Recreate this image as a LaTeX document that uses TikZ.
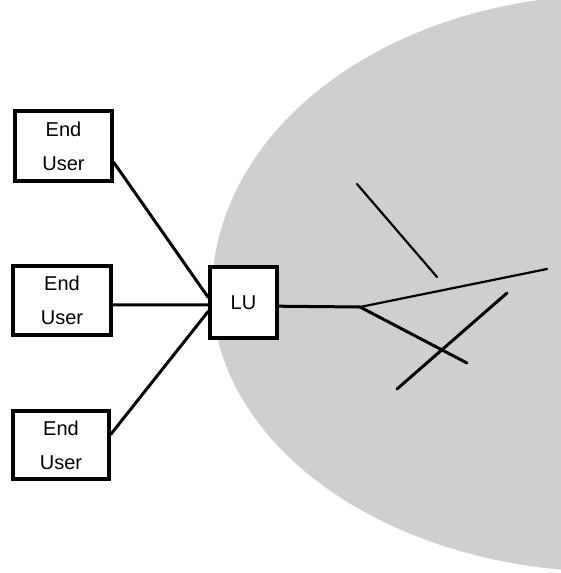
\documentclass[tikz,border=0pt]{standalone}
\usepackage{fontspec}
\setmainfont{Liberation Sans}
\begin{document}
\begin{tikzpicture}[x=1pt,y=-1pt,
  box/.style={draw=black, fill=white, line width=3.4pt, inner sep=0pt, align=center,
    font=\fontsize{20}{34}\selectfont},
  link/.style={line width=3pt, line cap=round},
  thin link/.style={line width=2.2pt, line cap=round}]
\useasboundingbox (0,0) rectangle (560,573);
% shaded region
\fill[black!19] plot[domain=97:180, samples=80, smooth] ({612+400*cos(\x)}, {292-297*sin(\x)})
  -- plot[domain=180:263, samples=80, smooth] ({612+400*cos(\x)}, {292-280*sin(\x)})
  -- (570,580) -- (570,-10) -- cycle;
% nodes
\node[box, minimum width=97, minimum height=70] (b1) at (63.5,146) {End\\User};
\node[box, minimum width=98, minimum height=69] (b2) at (62,300.5) {End\\User};
\node[box, minimum width=96, minimum height=68] (b3) at (61,445) {End\\User};
\node[box, minimum width=67, minimum height=71] (lu) at (243.5,302.5) {LU};
\coordinate (j) at (360,307);
\coordinate (e1) at (547,269);
\coordinate (e2) at (467,363);
\coordinate (c1) at (397,389);
\coordinate (c2) at (507,293);
\coordinate (s1) at (357,184);
\coordinate (s2) at (437,277);
% connectors
\draw[link] (b1.-18) -- (lu.172);
\draw[link] (b2.-5) -- (lu.184);
\draw[link] (b3.12) -- (lu.194);
\draw[link] (lu.-6) -- (j);
\draw[thin link] (j) -- (e1);
\draw[link] (j) -- (e2);
\draw[link] (c1) -- (c2);
\draw[thin link] (s1) -- (s2);
\end{tikzpicture}
\end{document}
